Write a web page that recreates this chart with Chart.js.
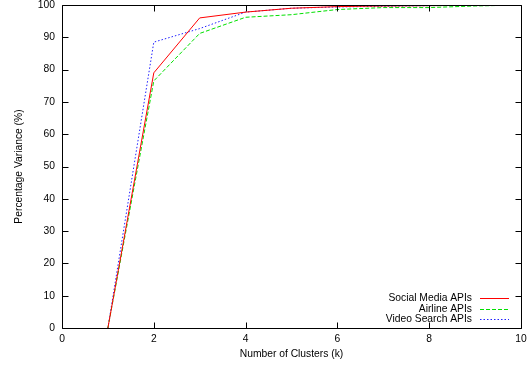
<!DOCTYPE html>
<html>
<head>
<meta charset="utf-8">
<script src="https://cdn.jsdelivr.net/npm/chart.js@4"></script>
<style>
html,body{margin:0;padding:0;background:#fff;}
#wrap{width:529px;height:366px;}
</style>
</head>
<body>
<div id="wrap"><canvas id="c" width="529" height="366"></canvas></div>
<script>
const clusters = [1, 2, 3, 4, 5, 6, 7, 8, 9, 10];
const socialMedia = [0, 79, 96, 97.8, 99, 99.5, 99.7, 99.8, 99.9, 100];
const airline = [0, 76.5, 91.2, 96.2, 97, 98.6, 99.2, 99.2, 99.7, 100];
const videoSearch = [0, 88.5, 92.7, 97.8, 99, 99.4, 99.6, 99.8, 99.9, 100];
const xTicks = [0, 2, 4, 6, 8, 10];
const yTicks = [0, 10, 20, 30, 40, 50, 60, 70, 80, 90, 100];
const FONT_SIZE = 10.3;
const FONT_FAMILY = '"Liberation Sans", Arial, Helvetica, sans-serif';
const FONT = FONT_SIZE + 'px ' + FONT_FAMILY;

function pts(arr){ return clusters.map((x,i)=>({x:x, y:arr[i]})); }

const framePlugin = {
  id: 'frame',
  afterDatasetsDraw(chart){
    const ctx = chart.ctx, a = chart.chartArea;
    const xs = chart.scales.x, ys = chart.scales.y;
    ctx.save();
    ctx.strokeStyle = '#000';
    ctx.lineWidth = 1;
    ctx.beginPath();
    const L = Math.round(a.left)+0.5, R = Math.round(a.right)+0.5, T = Math.round(a.top)+0.5, B = Math.round(a.bottom)+0.5;
    ctx.rect(L, T, R-L, B-T);
    const tl = 6;
    yTicks.forEach(v=>{
      const py = Math.round(ys.getPixelForValue(v))+0.5;
      ctx.moveTo(L, py); ctx.lineTo(L+tl, py);
      ctx.moveTo(R, py); ctx.lineTo(R-tl, py);
    });
    xTicks.forEach(v=>{
      const px = Math.round(xs.getPixelForValue(v))+0.5;
      ctx.moveTo(px, B); ctx.lineTo(px, B-tl);
      ctx.moveTo(px, T); ctx.lineTo(px, T+tl);
    });
    ctx.stroke();

    // legend
    ctx.font = FONT;
    ctx.fillStyle = '#000';
    ctx.textAlign = 'right';
    ctx.textBaseline = 'middle';
    const ds = chart.data.datasets;
    const lineH = 10.5;
    const baseY = a.bottom - 30;
    const sampleR = a.right - 12, sampleL = sampleR - 29;
    ds.forEach((d,i)=>{
      const y = Math.round(baseY + i*lineH);
      ctx.fillText(d.label, sampleL - 8, y + 0.5);
      ctx.beginPath();
      ctx.setLineDash(d.borderDash || []);
      ctx.strokeStyle = d.borderColor;
      ctx.lineWidth = d.borderWidth;
      ctx.moveTo(sampleL, y + 0.5); ctx.lineTo(sampleR, y + 0.5);
      ctx.stroke();
      ctx.setLineDash([]);
    });

    // axis titles
    ctx.fillStyle = '#000';
    ctx.textAlign = 'center';
    ctx.textBaseline = 'middle';
    ctx.fillText('Number of Clusters (k)', (a.left + a.right)/2, chart.height - 12);
    ctx.translate(19, (a.top + a.bottom)/2);
    ctx.rotate(-Math.PI/2);
    ctx.fillText('Percentage Variance (%)', 0, 0);
    ctx.restore();
  }
};

new Chart(document.getElementById('c'), {
  type: 'line',
  data: {
    datasets: [
      {label:'Social Media APIs', data: pts(socialMedia), borderColor:'#ff0000', borderWidth:1, pointRadius:0, tension:0, fill:false},
      {label:'Airline APIs', data: pts(airline), borderColor:'#00e000', borderWidth:1, borderDash:[4,2], pointRadius:0, tension:0, fill:false},
      {label:'Video Search APIs', data: pts(videoSearch), borderColor:'#2020ff', borderWidth:1, borderDash:[1.5,2], pointRadius:0, tension:0, fill:false}
    ]
  },
  options: {
    responsive:false,
    animation:false,
    devicePixelRatio:1,
    layout:{padding:{left:0,right:8,top:5,bottom:0}},
    plugins:{legend:{display:false}, tooltip:{enabled:false}},
    scales:{
      x:{
        type:'linear', min:0, max:10,
        afterBuildTicks(s){ s.ticks = xTicks.map(v=>({value:v})); },
        afterFit(s){ s.height = 38; s.paddingLeft = 0; s.paddingRight = 0; },
        grid:{display:false, drawTicks:false},
        border:{display:false},
        ticks:{font:{family:FONT_FAMILY, size:FONT_SIZE}, color:'#000', padding:5, maxRotation:0}
      },
      y:{
        type:'linear', min:0, max:100,
        afterBuildTicks(s){ s.ticks = yTicks.map(v=>({value:v})); },
        afterFit(s){ s.width = 62; s.paddingTop = 0; s.paddingBottom = 0; },
        grid:{display:false, drawTicks:false},
        border:{display:false},
        ticks:{font:{family:FONT_FAMILY, size:FONT_SIZE}, color:'#000', padding:7}
      }
    }
  },
  plugins:[framePlugin]
});
</script>
</body>
</html>
